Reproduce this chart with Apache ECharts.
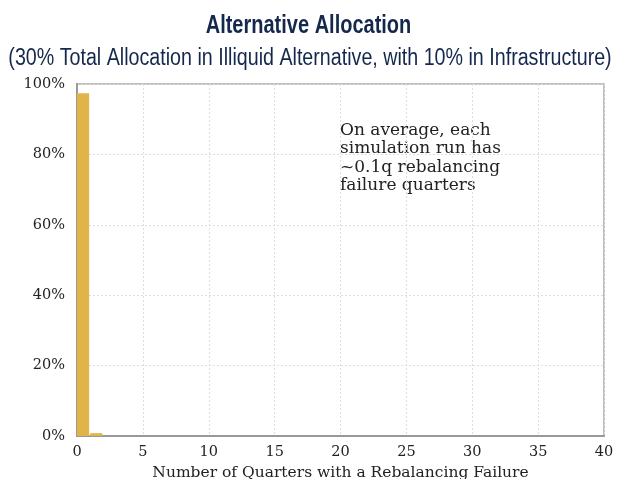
<!DOCTYPE html>
<html>
<head>
<meta charset="utf-8">
<script src="https://cdn.jsdelivr.net/npm/echarts@6/dist/echarts.min.js"></script>
<style>
  body { margin: 0; background: #fff; }
  #chart { width: 617px; height: 479px; }
</style>
</head>
<body>
<div id="chart"></div>
<script>
// histogram bins (left edge, right edge) and share of runs in %
const binStart = [0, 1];
const binEnd = [1, 2];
const shares = [97.4, 0.8];
const xTicks = [0, 5, 10, 15, 20, 25, 30, 35, 40];
const yTicks = [0, 20, 40, 60, 80, 100];
const note = 'On average, each\nsimulation run has\n~0.1q rebalancing\nfailure quarters';

const serif = '"DejaVu Serif", serif';
const sans = '"Liberation Sans", Arial, sans-serif';
const chart = echarts.init(document.getElementById('chart'));

const option = {
  animation: false,
  grid: {
    left: 77, right: 13, top: 84, bottom: 43,
    containLabel: false, outerBoundsMode: 'none',
    show: true, borderColor: '#aaa', borderWidth: 1.5
  },
  xAxis: {
    type: 'value',
    min: xTicks[0], max: xTicks[xTicks.length - 1], interval: xTicks[1] - xTicks[0],
    name: 'Number of Quarters with a Rebalancing Failure',
    nameLocation: 'middle',
    nameGap: 29,
    nameTextStyle: { fontFamily: serif, fontSize: 15.5, color: '#222' },
    axisLine: { lineStyle: { color: '#999', width: 2 } },
    axisTick: { show: false },
    axisLabel: { fontFamily: serif, fontSize: 14.5, color: '#222', margin: 9 },
    splitLine: { lineStyle: { color: '#ddd', type: [2, 2] } }
  },
  yAxis: {
    type: 'value',
    min: yTicks[0], max: yTicks[yTicks.length - 1], interval: yTicks[1] - yTicks[0],
    axisLine: { show: true, lineStyle: { color: '#999', width: 2 } },
    axisTick: { show: false },
    axisLabel: { fontFamily: serif, fontSize: 14.5, color: '#222', margin: 12, formatter: '{value}%' },
    splitLine: { lineStyle: { color: '#ddd', type: [2, 2] } }
  },
  series: [
    {
      type: 'custom',
      data: binStart.map((s, i) => [s, binEnd[i], shares[i]]),
      encode: { x: [0, 1], y: 2 },
      renderItem: function (params, api) {
        const p0 = api.coord([api.value(0), api.value(2)]);
        const p1 = api.coord([api.value(1), 0]);
        return {
          type: 'rect',
          shape: { x: p0[0], y: p0[1], width: (p1[0] - p0[0]) * 0.92, height: p1[1] - p0[1] },
          style: { fill: '#e2b347' }
        };
      }
    }
  ],
  graphic: [
    {
      // condensed title (no narrow font installed, so squeeze it)
      type: 'text',
      x: 308.5, y: 26, scaleX: 0.8,
      style: {
        text: 'Alternative Allocation', align: 'center', verticalAlign: 'middle',
        fontFamily: sans, fontSize: 25, fontWeight: 'bold', fill: '#14284b'
      }
    },
    {
      type: 'text',
      x: 310, y: 59, scaleX: 0.855,
      style: {
        text: '(30% Total Allocation in Illiquid Alternative, with 10% in Infrastructure)',
        align: 'center', verticalAlign: 'middle',
        fontFamily: sans, fontSize: 23, fill: '#14284b'
      }
    },
    {
      type: 'text',
      left: 340,
      top: 121,
      style: { text: note, fontFamily: serif, fontSize: 17, lineHeight: 18.5, fill: '#222' }
    }
  ]
};

chart.setOption(option);
</script>
</body>
</html>
